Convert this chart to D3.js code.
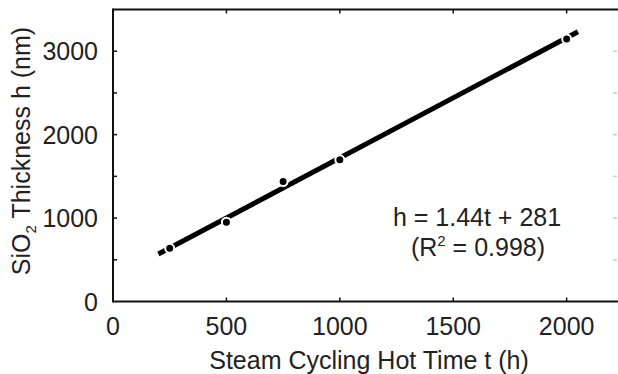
<!DOCTYPE html>
<html><head><meta charset="utf-8">
<script src="https://cdn.jsdelivr.net/npm/d3@7"></script>
<style>body{margin:0;background:#fff}svg{display:block}text{font-family:"Liberation Sans",Arial,sans-serif;fill:#222}</style>
</head><body>
<script>
const times = [250, 500, 750, 1000, 2000];
const thickness = [638, 950, 1438, 1698, 3147];
const fitSlope = 1.44, fitIntercept = 281;
const fitRange = [200, 2050];
const xTicks = [0, 500, 1000, 1500, 2000];
const yTicks = [0, 1000, 2000, 3000];
const yMinor = [500, 1500, 2500];

const W = 618, H = 374;
const m = {l: 113, r: 0, t: 9.5, b: 72.5};
const svg = d3.select("body").append("svg").attr("width", W).attr("height", H);
const x = d3.scaleLinear().domain([0, 2222]).range([m.l, 617]);
const y = d3.scaleLinear().domain([0, 3500]).range([H - m.b, m.t]);
const fs = 25;

// frame
const fr = svg.append("g");
fr.append("line").attr("x1", x(0)).attr("x2", W).attr("y1", y(0)).attr("y2", y(0)).attr("stroke", "#111").attr("stroke-width", 2);
fr.append("line").attr("x1", x(0)).attr("x2", W).attr("y1", y(3500)).attr("y2", y(3500)).attr("stroke", "#111").attr("stroke-width", 2);
fr.append("line").attr("x1", x(0)).attr("x2", x(0)).attr("y1", y(0)+1).attr("y2", y(3500)-1).attr("stroke", "#111").attr("stroke-width", 2);

// ticks
const tl = 4;
xTicks.filter(d => d > 0).forEach(d => {
  fr.append("line").attr("x1", x(d)).attr("x2", x(d)).attr("y1", y(0)).attr("y2", y(0)-tl).attr("stroke", "#111").attr("stroke-width", 1.5);
  fr.append("line").attr("x1", x(d)).attr("x2", x(d)).attr("y1", y(3500)).attr("y2", y(3500)+tl).attr("stroke", "#111").attr("stroke-width", 1.5);
});
yTicks.concat(yMinor).filter(d => d > 0).forEach(d => {
  fr.append("line").attr("x1", x(0)).attr("x2", x(0)+tl).attr("y1", y(d)).attr("y2", y(d)).attr("stroke", "#111").attr("stroke-width", 1.5);
  fr.append("line").attr("x1", 613).attr("x2", 617).attr("y1", y(d)).attr("y2", y(d)).attr("stroke", "#ccc").attr("stroke-width", 1.5);
});

// tick labels
svg.append("g").selectAll("text").data(xTicks).join("text")
  .attr("x", d => x(d)).attr("y", 335).attr("text-anchor", "middle").attr("font-size", fs).text(d => d);
svg.append("g").selectAll("text").data(yTicks).join("text")
  .attr("x", 98).attr("y", d => y(d) + 9).attr("text-anchor", "end").attr("font-size", fs).text(d => d);

// axis titles
svg.append("text").attr("x", 369).attr("y", 369).attr("text-anchor", "middle").attr("font-size", fs)
  .text("Steam Cycling Hot Time t (h)");
const yl = svg.append("text").attr("transform", "translate(30,151) rotate(-90)").attr("text-anchor", "middle").attr("font-size", fs);
yl.append("tspan").text("SiO");
yl.append("tspan").attr("font-size", 15).attr("dy", 6).text("2");
yl.append("tspan").attr("dy", -6).text(" Thickness h (nm)");

// fit line
const fitPts = fitRange.map(t => [t, fitSlope * t + fitIntercept]);
svg.append("path").attr("d", d3.line().x(d => x(d[0])).y(d => y(d[1]))(fitPts))
  .attr("stroke", "#000").attr("stroke-width", 5).attr("fill", "none");

// points
svg.append("g").selectAll("circle").data(times.map((t, i) => [t, thickness[i]])).join("circle")
  .attr("cx", d => x(d[0])).attr("cy", d => y(d[1])).attr("r", 4.5)
  .attr("fill", "#000").attr("stroke", "#fff").attr("stroke-width", 2);

// equation
svg.append("text").attr("x", 477).attr("y", 226).attr("text-anchor", "middle").attr("font-size", fs).text("h = 1.44t + 281");
const eq2 = svg.append("text").attr("x", 478).attr("y", 256).attr("text-anchor", "middle").attr("font-size", fs);
eq2.append("tspan").text("(R");
eq2.append("tspan").attr("font-size", 15).attr("dy", -10).text("2");
eq2.append("tspan").attr("dy", 10).text(" = 0.998)");
</script>
</body></html>
